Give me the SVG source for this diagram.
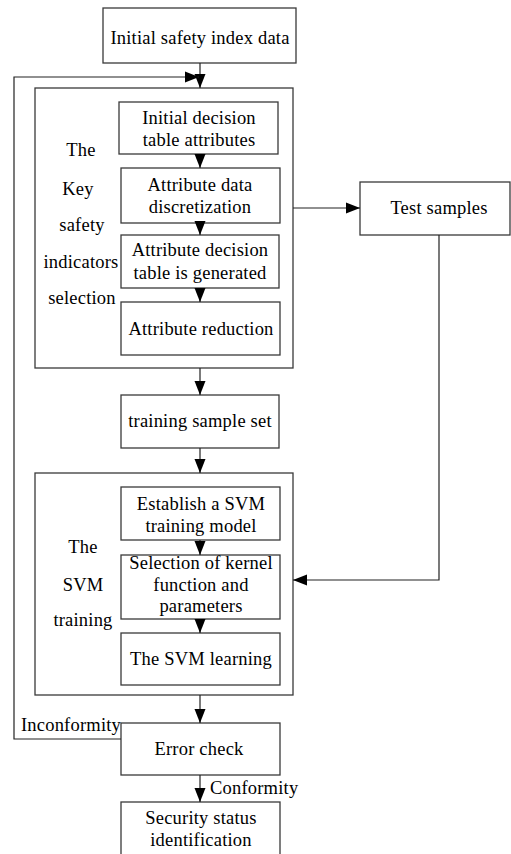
<svg xmlns="http://www.w3.org/2000/svg" width="511" height="854" viewBox="0 0 511 854" font-family="'Liberation Serif', 'DejaVu Serif', serif">
<defs>
<style>
.box{fill:#fff;stroke:#3a3a3a;stroke-width:1.3}
.grp{fill:none;stroke:#3a3a3a;stroke-width:1.3}
.ln{fill:none;stroke:#222;stroke-width:1.2}
text{font-family:'Liberation Serif','DejaVu Serif',serif;font-size:18.5px;fill:#000;letter-spacing:0.2px}
.c{text-anchor:middle}
</style>
<marker id="ah" markerUnits="userSpaceOnUse" markerWidth="14" markerHeight="12" refX="14" refY="5.5" orient="auto" viewBox="0 0 14 11">
<path d="M0,0 L14,5.5 L0,11 z" fill="#000"/>
</marker>
</defs>
<rect width="511" height="854" fill="#fff"/>

<g id="group-key">
<rect class="grp" x="35" y="88" width="258" height="280"/>
<text class="c" x="81" y="156">The</text>
<text class="c" x="78" y="195">Key</text>
<text class="c" x="82" y="231">safety</text>
<text class="c" x="81" y="268">indicators</text>
<text class="c" x="82" y="304">selection</text>
</g>
<g id="group-svm">
<rect class="grp" x="35" y="473" width="258" height="222"/>
<text class="c" x="83" y="553">The</text>
<text class="c" x="83" y="591">SVM</text>
<text class="c" x="83" y="626">training</text>
</g>

<g id="n-initial">
<rect class="box" x="103" y="8" width="193" height="55"/>
<text class="c" x="200" y="44">Initial safety index data</text>
</g>
<g id="n-decision">
<rect class="box" x="119" y="102" width="159" height="52"/>
<text class="c" x="199" y="124">Initial decision</text>
<text class="c" x="199" y="146">table attributes</text>
</g>
<g id="n-discret">
<rect class="box" x="121" y="168" width="159" height="55"/>
<text class="c" x="200" y="191">Attribute data</text>
<text class="c" x="200" y="213">discretization</text>
</g>
<g id="n-table">
<rect class="box" x="121" y="235" width="158" height="53"/>
<text class="c" x="200" y="256">Attribute decision</text>
<text class="c" x="200" y="279">table is generated</text>
</g>
<g id="n-reduction">
<rect class="box" x="121" y="302" width="159" height="53"/>
<text class="c" x="201" y="335">Attribute reduction</text>
</g>
<g id="n-test">
<rect class="box" x="360" y="182" width="150" height="53"/>
<text class="c" x="439" y="214">Test samples</text>
</g>
<g id="n-training-set">
<rect class="box" x="121" y="395" width="158" height="53"/>
<text class="c" x="200" y="427">training sample set</text>
</g>
<g id="n-establish">
<rect class="box" x="121" y="487" width="159" height="53"/>
<text class="c" x="201" y="510">Establish a SVM</text>
<text class="c" x="201" y="532">training model</text>
</g>
<g id="n-kernel">
<rect class="box" x="121" y="555" width="159" height="64"/>
<text class="c" x="201" y="569">Selection of kernel</text>
<text class="c" x="201" y="591">function and</text>
<text class="c" x="201" y="612">parameters</text>
</g>
<g id="n-learning">
<rect class="box" x="121" y="633" width="159" height="52"/>
<text class="c" x="201" y="665">The SVM learning</text>
</g>
<g id="n-error">
<rect class="box" x="121" y="723" width="159" height="52"/>
<text class="c" x="199" y="755">Error check</text>
</g>
<g id="n-security">
<rect class="box" x="121" y="802" width="159" height="60"/>
<text class="c" x="201" y="824">Security status</text>
<text class="c" x="201" y="846">identification</text>
</g>

<g id="connectors">
<line class="ln" x1="200" y1="63" x2="200" y2="88" marker-end="url(#ah)"/>
<polyline class="ln" points="121,739 14,739 14,77 199,77" marker-end="url(#ah)"/>
<line class="ln" x1="200" y1="154" x2="200" y2="168" marker-end="url(#ah)"/>
<line class="ln" x1="200" y1="223" x2="200" y2="235" marker-end="url(#ah)"/>
<line class="ln" x1="200" y1="288" x2="200" y2="302" marker-end="url(#ah)"/>
<line class="ln" x1="293" y1="208" x2="360" y2="208" marker-end="url(#ah)"/>
<polyline class="ln" points="439,235 439,580 293,580" marker-end="url(#ah)"/>
<line class="ln" x1="200" y1="368" x2="200" y2="395" marker-end="url(#ah)"/>
<line class="ln" x1="200" y1="448" x2="200" y2="473" marker-end="url(#ah)"/>
<line class="ln" x1="200" y1="540" x2="200" y2="555" marker-end="url(#ah)"/>
<line class="ln" x1="200" y1="619" x2="200" y2="633" marker-end="url(#ah)"/>
<line class="ln" x1="200" y1="695" x2="200" y2="723" marker-end="url(#ah)"/>
<line class="ln" x1="200" y1="775" x2="200" y2="802" marker-end="url(#ah)"/>
<text x="21" y="731">Inconformity</text>
<text x="210" y="794">Conformity</text>
</g>
</svg>
